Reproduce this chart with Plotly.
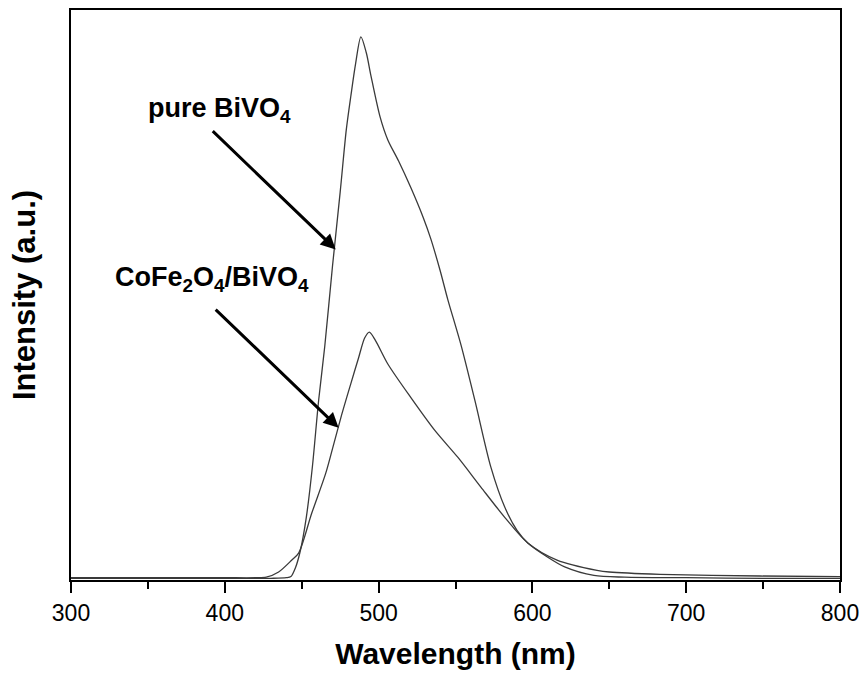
import plotly.graph_objects as go

# Wavelength (nm) and intensity (a.u.)
pure_x = [300, 350, 400, 430, 440, 443, 446, 449, 453, 457, 461, 465, 470, 475, 479,
          482, 485, 488.5, 492, 495, 501, 506, 513, 521, 529, 534, 540, 545, 553.6,
          562.6, 573, 582, 590, 597, 610, 621, 640, 660, 700, 750, 800]
pure_y = [3, 3, 3, 3, 4, 6, 22, 50, 110, 200, 315, 410, 550, 680, 790,
          850, 905, 953, 925, 885, 812, 772, 735, 688, 636, 598, 543, 492, 412,
          315, 198, 128, 87, 65, 40, 23, 8, 5, 4, 3, 3]

cofe_x = [300, 350, 400, 420, 427, 435, 443.6, 448, 456.5, 465.6, 470, 476, 482, 487, 491,
          494, 498, 506, 521, 536.7, 551.6, 566.5, 582, 597, 616, 642, 650, 683, 748, 800]
cofe_y = [4, 4, 4, 4, 5, 14, 35, 47, 117, 187, 230, 290, 345, 390, 425,
          435, 420, 379, 320, 262, 215, 163, 110, 65, 35, 17, 14, 10, 7, 6]

x_ticks = [300, 400, 500, 600, 700, 800]

FONT = "Liberation Sans, Arial, sans-serif"

fig = go.Figure()
fig.add_trace(go.Scatter(x=pure_x, y=pure_y, mode="lines", line=dict(color="#3a3a3a", width=1.3),
                         line_shape="spline", line_smoothing=0.8, name="pure BiVO4"))
fig.add_trace(go.Scatter(x=cofe_x, y=cofe_y, mode="lines", line=dict(color="#3a3a3a", width=1.3),
                         line_shape="spline", line_smoothing=0.8, name="CoFe2O4/BiVO4"))

# arrows
fig.add_annotation(x=472.1, y=580, ax=391.2, ay=790, xref="x", yref="y", axref="x", ayref="y",
                   text="", showarrow=True, arrowhead=2, arrowsize=1.0, arrowwidth=3, arrowcolor="black")
fig.add_annotation(x=474, y=267, ax=393.1, ay=477, xref="x", yref="y", axref="x", ayref="y",
                   text="", showarrow=True, arrowhead=2, arrowsize=1.0, arrowwidth=3, arrowcolor="black")

# labels
fig.add_annotation(x=348.5, y=825, xref="x", yref="y", text="<b>pure BiVO<sub>4</sub></b>",
                   showarrow=False, xanchor="left", yanchor="middle",
                   font=dict(family=FONT, size=27, color="black"))
fig.add_annotation(x=327.5, y=528, xref="x", yref="y", text="<b>CoFe<sub>2</sub>O<sub>4</sub>/BiVO<sub>4</sub></b>",
                   showarrow=False, xanchor="left", yanchor="middle",
                   font=dict(family=FONT, size=27, color="black"))

fig.update_layout(
    width=867, height=675,
    margin=dict(l=71, r=22, t=8, b=95),
    paper_bgcolor="white", plot_bgcolor="white",
    showlegend=False,
    font=dict(family=FONT, color="black"),
)
fig.update_xaxes(
    range=[300, 800], tickvals=x_ticks, ticktext=[str(v) for v in x_ticks],
    ticks="outside", ticklen=11, tickwidth=2, tickcolor="black",
    tickfont=dict(family=FONT, size=23, color="black"),
    minor=dict(dtick=50, ticks="outside", ticklen=7, tickwidth=2, tickcolor="black"),
    showline=True, linecolor="black", linewidth=2, mirror=True,
    showgrid=False, zeroline=False,
    title=dict(text="<b>Wavelength (nm)</b>", font=dict(family=FONT, size=30, color="black"), standoff=18),
)
fig.update_yaxes(
    range=[0, 1000], showticklabels=False, ticks="",
    showline=True, linecolor="black", linewidth=2, mirror=True,
    showgrid=False, zeroline=False,
    title=dict(text="<b>Intensity (a.u.)</b>", font=dict(family=FONT, size=31, color="black"), standoff=24),
)

fig.write_html("out.html")
